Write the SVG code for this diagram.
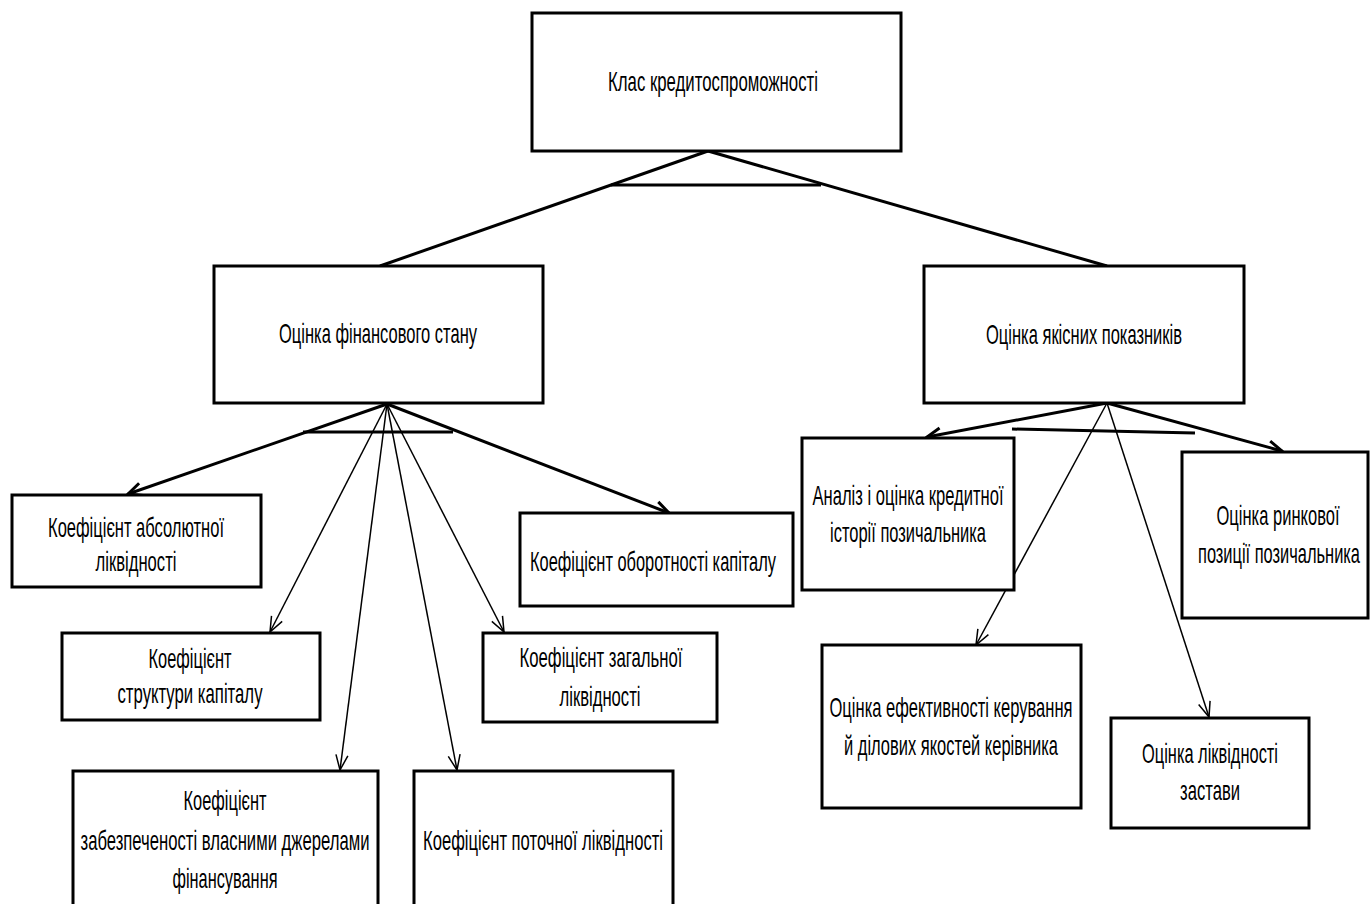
<svg xmlns="http://www.w3.org/2000/svg" width="1370" height="904" viewBox="0 0 1370 904">
<style>
.box{fill:#fff;stroke:#000;stroke-width:3}
.t{font-family:"Liberation Sans Narrow","Liberation Sans",Arial,sans-serif;font-size:17px;fill:#000;text-anchor:middle}
.thick{stroke:#000;stroke-width:3;fill:none}
.thin{stroke:#000;stroke-width:1.5;fill:none}
</style>
<defs>
<marker id="ahk" markerUnits="userSpaceOnUse" viewBox="-18 -10 20 20" markerWidth="20" markerHeight="20" refX="0" refY="0" orient="auto">
<path d="M-14,-6.5 L0,0 L-14,6.5" fill="none" stroke="#000" stroke-width="3"/>
</marker>
<marker id="ahn" markerUnits="userSpaceOnUse" viewBox="-18 -10 20 20" markerWidth="20" markerHeight="20" refX="0" refY="0" orient="auto">
<path d="M-15,-6 L0,0 L-15,6" fill="none" stroke="#000" stroke-width="1.5"/>
</marker>
</defs>
<rect width="1370" height="904" fill="#fff"/>
<g id="connectors">
<line class="thick" x1="708" y1="151" x2="380" y2="266"/>
<line class="thick" x1="708" y1="151" x2="1107" y2="266"/>
<line class="thick" x1="611" y1="185" x2="821" y2="185"/>
<line class="thick" x1="303" y1="432" x2="453" y2="432"/>
<line class="thick" x1="1012" y1="429" x2="1195" y2="433"/>
<line class="thick" x1="387" y1="404" x2="128" y2="494" marker-end="url(#ahk)"/>
<line class="thin" x1="387" y1="404" x2="270" y2="632" marker-end="url(#ahn)"/>
<line class="thin" x1="387" y1="404" x2="340" y2="770" marker-end="url(#ahn)"/>
<line class="thin" x1="387" y1="404" x2="457" y2="770" marker-end="url(#ahn)"/>
<line class="thin" x1="387" y1="404" x2="504" y2="632" marker-end="url(#ahn)"/>
<line class="thick" x1="387" y1="404" x2="669" y2="513" marker-end="url(#ahk)"/>
<line class="thick" x1="1107" y1="403" x2="927" y2="437" marker-end="url(#ahk)"/>
<line class="thin" x1="1107" y1="403" x2="976" y2="645" marker-end="url(#ahn)"/>
<line class="thin" x1="1107" y1="403" x2="1209" y2="717" marker-end="url(#ahn)"/>
<line class="thick" x1="1107" y1="403" x2="1282" y2="451" marker-end="url(#ahk)"/>
</g>
<g id="top">
<rect class="box" x="532" y="13" width="369" height="138"/>
<text class="t" transform="translate(713,91) scale(1,1.6)" textLength="210" lengthAdjust="spacingAndGlyphs">Клас кредитоспроможності</text>
</g>
<g id="fin">
<rect class="box" x="214" y="266" width="329" height="137"/>
<text class="t" transform="translate(378,343) scale(1,1.6)" textLength="198" lengthAdjust="spacingAndGlyphs">Оцінка фінансового стану</text>
</g>
<g id="qual">
<rect class="box" x="924" y="266" width="320" height="137"/>
<text class="t" transform="translate(1084,344) scale(1,1.6)" textLength="196" lengthAdjust="spacingAndGlyphs">Оцінка якісних показників</text>
</g>
<g id="abs">
<rect class="box" x="12" y="495" width="249" height="92"/>
<text class="t" transform="translate(136,537) scale(1,1.6)" textLength="176" lengthAdjust="spacingAndGlyphs">Коефіцієнт абсолютної</text>
<text class="t" transform="translate(136,571) scale(1,1.6)" textLength="81" lengthAdjust="spacingAndGlyphs">ліквідності</text>
</g>
<g id="struct">
<rect class="box" x="62" y="633" width="258" height="87"/>
<text class="t" transform="translate(190,668) scale(1,1.6)" textLength="83" lengthAdjust="spacingAndGlyphs">Коефіцієнт</text>
<text class="t" transform="translate(190,703) scale(1,1.6)" textLength="145" lengthAdjust="spacingAndGlyphs">структури капіталу</text>
</g>
<g id="own">
<rect class="box" x="73" y="771" width="305" height="150"/>
<text class="t" transform="translate(225,810) scale(1,1.6)" textLength="83" lengthAdjust="spacingAndGlyphs">Коефіцієнт</text>
<text class="t" transform="translate(225,850) scale(1,1.6)" textLength="289" lengthAdjust="spacingAndGlyphs">забезпеченості власними джерелами</text>
<text class="t" transform="translate(225,888) scale(1,1.6)" textLength="105" lengthAdjust="spacingAndGlyphs">фінансування</text>
</g>
<g id="current">
<rect class="box" x="414" y="771" width="259" height="150"/>
<text class="t" transform="translate(543,850) scale(1,1.6)" textLength="240" lengthAdjust="spacingAndGlyphs">Коефіцієнт поточної ліквідності</text>
</g>
<g id="general">
<rect class="box" x="483" y="633" width="234" height="89"/>
<text class="t" transform="translate(601,667) scale(1,1.6)" textLength="163" lengthAdjust="spacingAndGlyphs">Коефіцієнт загальної</text>
<text class="t" transform="translate(600,706) scale(1,1.6)" textLength="81" lengthAdjust="spacingAndGlyphs">ліквідності</text>
</g>
<g id="turnover">
<rect class="box" x="520" y="513" width="273" height="93"/>
<text class="t" transform="translate(653,571) scale(1,1.6)" textLength="246" lengthAdjust="spacingAndGlyphs">Коефіцієнт оборотності капіталу</text>
</g>
<g id="history">
<rect class="box" x="802" y="438" width="212" height="152"/>
<text class="t" transform="translate(908,505) scale(1,1.6)" textLength="191" lengthAdjust="spacingAndGlyphs">Аналіз і оцінка кредитної</text>
<text class="t" transform="translate(908,542) scale(1,1.6)" textLength="156" lengthAdjust="spacingAndGlyphs">історії позичальника</text>
</g>
<g id="market">
<rect class="box" x="1182" y="452" width="186" height="166"/>
<text class="t" transform="translate(1278,525) scale(1,1.6)" textLength="123" lengthAdjust="spacingAndGlyphs">Оцінка ринкової</text>
<text class="t" transform="translate(1279,563) scale(1,1.6)" textLength="162" lengthAdjust="spacingAndGlyphs">позиції позичальника</text>
</g>
<g id="management">
<rect class="box" x="822" y="645" width="259" height="163"/>
<text class="t" transform="translate(951,717) scale(1,1.6)" textLength="243" lengthAdjust="spacingAndGlyphs">Оцінка ефективності керування</text>
<text class="t" transform="translate(951,755) scale(1,1.6)" textLength="214" lengthAdjust="spacingAndGlyphs">й ділових якостей керівника</text>
</g>
<g id="collateral">
<rect class="box" x="1111" y="718" width="198" height="110"/>
<text class="t" transform="translate(1210,763) scale(1,1.6)" textLength="136" lengthAdjust="spacingAndGlyphs">Оцінка ліквідності</text>
<text class="t" transform="translate(1210,800) scale(1,1.6)" textLength="60" lengthAdjust="spacingAndGlyphs">застави</text>
</g>
</svg>
